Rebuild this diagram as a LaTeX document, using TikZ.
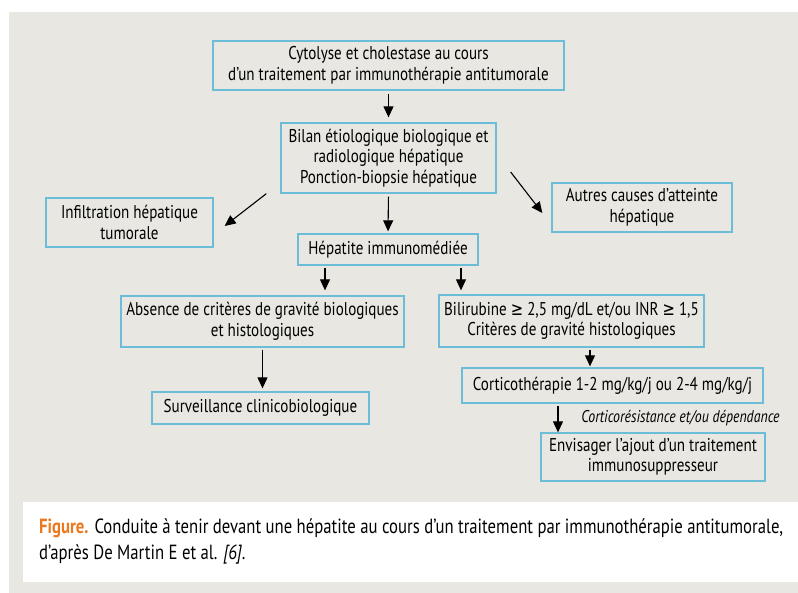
\documentclass[tikz,border=0pt]{standalone}
\usepackage{fontspec}
\setmainfont{PT Sans}[FakeStretch=0.815]
\newfontfamily\symfont{DejaVu Sans}[FakeStretch=0.8]
\usetikzlibrary{arrows.meta,calc}
\definecolor{bggray}{RGB}{232,231,225}
\definecolor{boxblue}{RGB}{108,190,216}
\definecolor{figorange}{RGB}{236,120,30}
\newcommand{\gep}{{\symfont ≥}}
\begin{document}
\begin{tikzpicture}[x=1pt,y=-1pt,
  bx/.style={draw=boxblue,line width=1.3pt,align=center,inner sep=0pt,
    font=\fontsize{18.5}{20.5}\selectfont},
  arr/.style={line width=1.1pt,-{Triangle[length=11pt,width=10pt]}}]
\useasboundingbox (0,0) rectangle (798,593);
\fill[white] (0,0) rectangle (798,593);
\fill[bggray] (9,12) rectangle (798,593);
\fill[white] (23,502) rectangle (798,582);

\node[bx,minimum width=351pt,minimum height=49pt] (top) at (388.5,65.5)
  {Cytolyse et cholestase au cours\\d'un traitement par immunothérapie antitumorale};
\node[bx,minimum width=215pt,minimum height=70pt] (bilan) at (388.5,158)
  {Bilan étiologique biologique et\\radiologique hépatique\\Ponction-biopsie hépatique};
\node[bx,minimum width=167pt,minimum height=49pt] (infil) at (129.5,222.5)
  {Infiltration hépatique\\tumorale};
\node[bx,minimum width=180pt,minimum height=49pt] (autres) at (642,207.5)
  {Autres causes d'atteinte\\hépatique};
\node[bx,minimum width=180pt,minimum height=31pt] (hep) at (388,249.5)
  {Hépatite immunomédiée};
\node[bx,minimum width=283pt,minimum height=51pt] (abs) at (262.5,321.5)
  {Absence de critères de gravité biologiques\\et histologiques};
\node[bx,minimum width=265pt,minimum height=52pt] (bili) at (571.5,321)
  {Bilirubine \gep{} 2,5 mg/dL et/ou INR \gep{} 1,5\\Critères de gravité histologiques};
\node[bx,minimum width=217pt,minimum height=32pt] (surv) at (260.5,408)
  {Surveillance clinicobiologique};
\node[bx,minimum width=301pt,minimum height=35pt] (cort) at (612.5,385.5)
  {Corticothérapie 1-2 mg/kg/j ou 2-4 mg/kg/j};
\node[bx,minimum width=224pt,minimum height=48pt] (env) at (653,457)
  {Envisager l’ajout d'un traitement\\immunosuppresseur};
\node[font=\fontsize{17}{19}\selectfont\itshape,inner sep=0pt] (lab) at (680.5,418)
  {Corticorésistance et/ou dépendance};

\draw[arr,shorten <=3pt,shorten >=5pt] (top.south) -- (bilan.north);
\draw[arr] ($(bilan.south west)+(-14,0)$) -- ($(infil.east)+(11,3.5)$);
\draw[arr] ($(bilan.east)+(14,14)$) -- ($(autres.west)+(-9,5.5)$);
\draw[arr,shorten <=3pt,shorten >=2pt] (bilan.south) -- (hep.north);
\draw[arr,shorten <=2pt,shorten >=5pt] ([xshift=-63pt]hep.south) -- ([xshift=-63pt]hep.south |- abs.north);
\draw[arr,shorten <=2pt,shorten >=4pt] ([xshift=73pt]hep.south) -- ([xshift=73pt]hep.south |- bili.north);
\draw[arr,shorten <=2pt,shorten >=3pt] (abs.south) -- (abs.south |- surv.north);
\draw[arr,shorten <=2pt,shorten >=1pt] ([xshift=18.5pt]bili.south) -- ([xshift=18.5pt]bili.south |- cort.north);
\draw[arr,shorten <=2pt] ([xshift=-54.5pt]cort.south) -- ([xshift=-54.5pt]cort.south |- env.north);

\node[anchor=north west,align=left,inner sep=0pt,
  font=\fontsize{20.5}{26}\selectfont] (cap) at (39,519)
  {{\color{figorange}\bfseries Figure.} Conduite à tenir devant une hépatite au cours d’un traitement par immunothérapie antitumorale,\\
   d’après De Martin E et al. \textit{[6]}.};
\end{tikzpicture}
\end{document}
